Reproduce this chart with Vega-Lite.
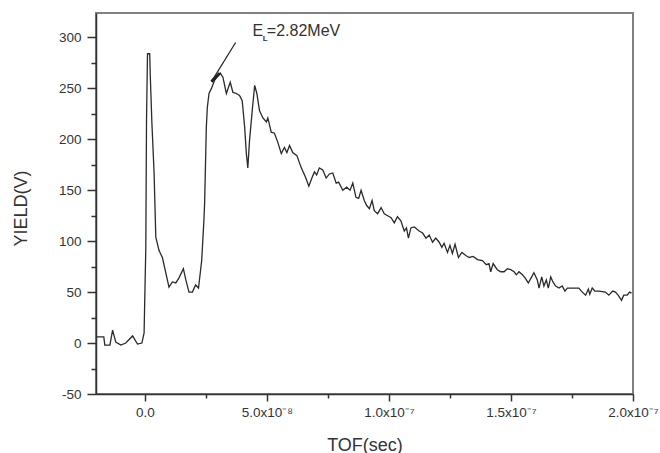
{
  "$schema": "https://vega.github.io/schema/vega-lite/v6.json",
  "width": 537,
  "height": 381,
  "autosize": {"type": "none"},
  "padding": {"left": 96, "top": 13, "right": 27, "bottom": 59},
  "background": "white",
  "config": {
    "view": {"stroke": "#808080", "strokeWidth": 2},
    "font": "Liberation Sans"
  },
  "resolve": {"axis": {"x": "independent", "y": "independent"}},
  "layer": [
    {
      "data": {"values": [
        {"tof_ns": -20.0, "yield": 6}, {"tof_ns": -16.8, "yield": 6}, {"tof_ns": -16.4, "yield": -2},
        {"tof_ns": -14.3, "yield": -2}, {"tof_ns": -13.2, "yield": 12.7}, {"tof_ns": -11.9, "yield": 1},
        {"tof_ns": -9.8, "yield": -2}, {"tof_ns": -7.8, "yield": 0}, {"tof_ns": -5.0, "yield": 7},
        {"tof_ns": -3.0, "yield": -1}, {"tof_ns": -1.2, "yield": 0}, {"tof_ns": -0.3, "yield": 10},
        {"tof_ns": 0.4, "yield": 93}, {"tof_ns": 0.7, "yield": 220}, {"tof_ns": 1.1, "yield": 284},
        {"tof_ns": 2.0, "yield": 284}, {"tof_ns": 2.2, "yield": 265}, {"tof_ns": 2.9, "yield": 216},
        {"tof_ns": 3.8, "yield": 167}, {"tof_ns": 4.5, "yield": 104}, {"tof_ns": 5.8, "yield": 91},
        {"tof_ns": 7.2, "yield": 84}, {"tof_ns": 8.6, "yield": 69}, {"tof_ns": 9.9, "yield": 55},
        {"tof_ns": 11.3, "yield": 60}, {"tof_ns": 12.7, "yield": 59}, {"tof_ns": 14.0, "yield": 64},
        {"tof_ns": 15.8, "yield": 73}, {"tof_ns": 16.8, "yield": 62}, {"tof_ns": 18.1, "yield": 50},
        {"tof_ns": 19.5, "yield": 50}, {"tof_ns": 20.8, "yield": 57}, {"tof_ns": 22.0, "yield": 54},
        {"tof_ns": 23.3, "yield": 81}, {"tof_ns": 24.2, "yield": 120}, {"tof_ns": 24.5, "yield": 137},
        {"tof_ns": 25.2, "yield": 212}, {"tof_ns": 25.6, "yield": 231}, {"tof_ns": 26.3, "yield": 245},
        {"tof_ns": 27.3, "yield": 250}, {"tof_ns": 28.6, "yield": 258}, {"tof_ns": 30.0, "yield": 263},
        {"tof_ns": 30.9, "yield": 265}, {"tof_ns": 32.0, "yield": 261}, {"tof_ns": 33.4, "yield": 245},
        {"tof_ns": 35.0, "yield": 256}, {"tof_ns": 36.1, "yield": 246}, {"tof_ns": 37.5, "yield": 245},
        {"tof_ns": 38.8, "yield": 243}, {"tof_ns": 39.9, "yield": 238}, {"tof_ns": 40.9, "yield": 212},
        {"tof_ns": 41.6, "yield": 186}, {"tof_ns": 42.2, "yield": 172}, {"tof_ns": 42.9, "yield": 199},
        {"tof_ns": 44.0, "yield": 228}, {"tof_ns": 45.0, "yield": 253}, {"tof_ns": 45.9, "yield": 245},
        {"tof_ns": 47.0, "yield": 228}, {"tof_ns": 48.4, "yield": 221}, {"tof_ns": 49.8, "yield": 217},
        {"tof_ns": 50.4, "yield": 221}, {"tof_ns": 51.8, "yield": 207}, {"tof_ns": 53.1, "yield": 206},
        {"tof_ns": 54.5, "yield": 197}, {"tof_ns": 55.9, "yield": 186}, {"tof_ns": 57.2, "yield": 192},
        {"tof_ns": 58.2, "yield": 187}, {"tof_ns": 59.3, "yield": 194}, {"tof_ns": 60.6, "yield": 187},
        {"tof_ns": 62.3, "yield": 184}, {"tof_ns": 64.1, "yield": 172}, {"tof_ns": 65.8, "yield": 163},
        {"tof_ns": 67.2, "yield": 154}, {"tof_ns": 68.6, "yield": 163}, {"tof_ns": 69.5, "yield": 168},
        {"tof_ns": 70.4, "yield": 165}, {"tof_ns": 71.5, "yield": 172}, {"tof_ns": 72.9, "yield": 170},
        {"tof_ns": 74.3, "yield": 162}, {"tof_ns": 75.6, "yield": 166}, {"tof_ns": 77.0, "yield": 167},
        {"tof_ns": 78.4, "yield": 157}, {"tof_ns": 79.4, "yield": 158}, {"tof_ns": 81.1, "yield": 150},
        {"tof_ns": 82.7, "yield": 153}, {"tof_ns": 84.1, "yield": 150}, {"tof_ns": 85.2, "yield": 157},
        {"tof_ns": 86.5, "yield": 143}, {"tof_ns": 87.6, "yield": 142}, {"tof_ns": 88.6, "yield": 150},
        {"tof_ns": 89.9, "yield": 140}, {"tof_ns": 90.9, "yield": 135}, {"tof_ns": 92.0, "yield": 132},
        {"tof_ns": 93.1, "yield": 140}, {"tof_ns": 94.0, "yield": 130}, {"tof_ns": 95.4, "yield": 127},
        {"tof_ns": 96.8, "yield": 133}, {"tof_ns": 98.1, "yield": 127}, {"tof_ns": 99.5, "yield": 125},
        {"tof_ns": 100.9, "yield": 123}, {"tof_ns": 102.2, "yield": 118}, {"tof_ns": 103.5, "yield": 124},
        {"tof_ns": 104.9, "yield": 120}, {"tof_ns": 106.3, "yield": 110}, {"tof_ns": 107.2, "yield": 113},
        {"tof_ns": 108.0, "yield": 103}, {"tof_ns": 109.0, "yield": 113}, {"tof_ns": 110.4, "yield": 114},
        {"tof_ns": 112.4, "yield": 110}, {"tof_ns": 113.8, "yield": 108}, {"tof_ns": 115.2, "yield": 103},
        {"tof_ns": 116.5, "yield": 106}, {"tof_ns": 117.9, "yield": 99}, {"tof_ns": 119.2, "yield": 103},
        {"tof_ns": 120.6, "yield": 99}, {"tof_ns": 121.7, "yield": 94}, {"tof_ns": 122.6, "yield": 98},
        {"tof_ns": 124.0, "yield": 89}, {"tof_ns": 125.0, "yield": 96}, {"tof_ns": 126.0, "yield": 88},
        {"tof_ns": 127.1, "yield": 97}, {"tof_ns": 128.5, "yield": 84}, {"tof_ns": 129.9, "yield": 89},
        {"tof_ns": 131.5, "yield": 86}, {"tof_ns": 132.9, "yield": 84}, {"tof_ns": 134.5, "yield": 85},
        {"tof_ns": 136.3, "yield": 82}, {"tof_ns": 138.3, "yield": 81}, {"tof_ns": 139.9, "yield": 77},
        {"tof_ns": 141.0, "yield": 78}, {"tof_ns": 141.7, "yield": 70}, {"tof_ns": 142.7, "yield": 78},
        {"tof_ns": 144.4, "yield": 72}, {"tof_ns": 145.8, "yield": 70}, {"tof_ns": 147.2, "yield": 70},
        {"tof_ns": 148.5, "yield": 73}, {"tof_ns": 149.9, "yield": 72}, {"tof_ns": 151.3, "yield": 70},
        {"tof_ns": 152.2, "yield": 67}, {"tof_ns": 153.3, "yield": 70}, {"tof_ns": 154.7, "yield": 67},
        {"tof_ns": 155.8, "yield": 64}, {"tof_ns": 157.1, "yield": 59}, {"tof_ns": 158.5, "yield": 65},
        {"tof_ns": 159.4, "yield": 69}, {"tof_ns": 160.8, "yield": 62}, {"tof_ns": 161.5, "yield": 54},
        {"tof_ns": 162.6, "yield": 65}, {"tof_ns": 163.5, "yield": 56}, {"tof_ns": 164.5, "yield": 62},
        {"tof_ns": 165.3, "yield": 54}, {"tof_ns": 166.3, "yield": 65}, {"tof_ns": 167.2, "yield": 60},
        {"tof_ns": 168.3, "yield": 56}, {"tof_ns": 169.7, "yield": 54}, {"tof_ns": 171.0, "yield": 56},
        {"tof_ns": 172.1, "yield": 51}, {"tof_ns": 173.1, "yield": 54}, {"tof_ns": 175.1, "yield": 54},
        {"tof_ns": 177.8, "yield": 54}, {"tof_ns": 179.2, "yield": 50}, {"tof_ns": 180.6, "yield": 47},
        {"tof_ns": 181.7, "yield": 53}, {"tof_ns": 182.3, "yield": 48}, {"tof_ns": 183.3, "yield": 54},
        {"tof_ns": 184.4, "yield": 51}, {"tof_ns": 186.0, "yield": 51}, {"tof_ns": 188.7, "yield": 50},
        {"tof_ns": 190.1, "yield": 47}, {"tof_ns": 191.7, "yield": 51}, {"tof_ns": 192.8, "yield": 50},
        {"tof_ns": 193.9, "yield": 47}, {"tof_ns": 195.3, "yield": 42}, {"tof_ns": 196.2, "yield": 47},
        {"tof_ns": 197.6, "yield": 47}, {"tof_ns": 198.6, "yield": 50}, {"tof_ns": 199.4, "yield": 49}
      ]},
      "mark": {"type": "line", "color": "#2a2a2a", "strokeWidth": 1.3, "interpolate": "linear"},
      "encoding": {
        "x": {
          "field": "tof_ns", "type": "quantitative",
          "scale": {"domain": [-20, 200], "nice": false, "zero": false},
          "axis": {
            "orient": "bottom",
            "title": "TOF(sec)",
            "values": [0, 50, 100, 150, 200],
            "labelExpr": "datum.value == 0 ? '0.0' : datum.value == 50 ? '5.0x10⁻⁸' : datum.value == 100 ? '1.0x10⁻⁷' : datum.value == 150 ? '1.5x10⁻⁷' : '2.0x10⁻⁷'",
            "grid": false,
            "domainColor": "#333", "domainWidth": 1.5,
            "tickColor": "#333", "tickWidth": 1.5, "tickSize": 7,
            "labelFont": "Liberation Sans", "labelFontSize": 13.5, "labelColor": "#333",
            "labelPadding": 4, "labelFlush": false, "labelOverlap": false,
            "titleFont": "Liberation Sans", "titleFontSize": 18, "titleFontWeight": "normal", "titleColor": "#333",
            "titleBaseline": "alphabetic", "titleY": 56
          }
        },
        "y": {
          "field": "yield", "type": "quantitative",
          "scale": {"domain": [-50, 324], "nice": false, "zero": false},
          "axis": {
            "orient": "left",
            "title": "YIELD(V)",
            "values": [-50, 0, 50, 100, 150, 200, 250, 300],
            "labelExpr": "'' + datum.value",
            "grid": false,
            "domainColor": "#333", "domainWidth": 1.5,
            "tickColor": "#333", "tickWidth": 1.5, "tickSize": 9,
            "labelFont": "Liberation Sans", "labelFontSize": 13.5, "labelColor": "#333",
            "labelPadding": 6, "labelOverlap": false, "labelFlush": false,
            "titleFont": "Liberation Sans", "titleFontSize": 18, "titleFontWeight": "normal", "titleColor": "#333",
            "titleBaseline": "alphabetic", "titleX": -70, "titleY": 195
          }
        }
      }
    },
    {
      "data": {"values": [{"x1": 37.2, "y1": 295, "x2": 27.3, "y2": 256.6}]},
      "mark": {"type": "rule", "color": "#222", "strokeWidth": 1.2},
      "encoding": {
        "x": {"field": "x1", "type": "quantitative",
          "axis": {"orient": "bottom", "values": [25, 75, 125, 175], "labels": false, "domain": false, "grid": false, "title": null,
            "tickColor": "#333", "tickWidth": 1.5, "tickSize": 4}},
        "y": {"field": "y1", "type": "quantitative",
          "axis": {"orient": "left", "values": [-25, 25, 75, 125, 175, 225, 275], "labels": false, "domain": false, "grid": false, "title": null,
            "tickColor": "#333", "tickWidth": 1.5, "tickSize": 5}},
        "x2": {"field": "x2"},
        "y2": {"field": "y2"}
      }
    },
    {
      "data": {"values": [{"x1": 27.3, "y1": 256.6, "x2": 30.7, "y2": 264.8}]},
      "mark": {"type": "rule", "color": "#222", "strokeWidth": 3},
      "encoding": {
        "x": {"field": "x1", "type": "quantitative", "axis": null},
        "y": {"field": "y1", "type": "quantitative", "axis": null},
        "x2": {"field": "x2"},
        "y2": {"field": "y2"}
      }
    },
    {
      "data": {"values": [{"tof_ns": 44.1, "yield": 301.8, "label": "E"}, {"tof_ns": 50.0, "yield": 301.8, "label": "=2.82MeV"}]},
      "mark": {"type": "text", "align": "left", "baseline": "alphabetic", "font": "Liberation Sans", "fontSize": 16, "color": "#333"},
      "encoding": {
        "x": {"field": "tof_ns", "type": "quantitative", "axis": null},
        "y": {"field": "yield", "type": "quantitative", "axis": null},
        "text": {"field": "label"}
      }
    },
    {
      "data": {"values": [{"tof_ns": 48.3, "yield": 296.9, "label": "L"}]},
      "mark": {"type": "text", "align": "left", "baseline": "alphabetic", "font": "Liberation Sans", "fontSize": 8, "fontWeight": "bold", "color": "#333"},
      "encoding": {
        "x": {"field": "tof_ns", "type": "quantitative", "axis": null},
        "y": {"field": "yield", "type": "quantitative", "axis": null},
        "text": {"field": "label"}
      }
    }
  ]
}
